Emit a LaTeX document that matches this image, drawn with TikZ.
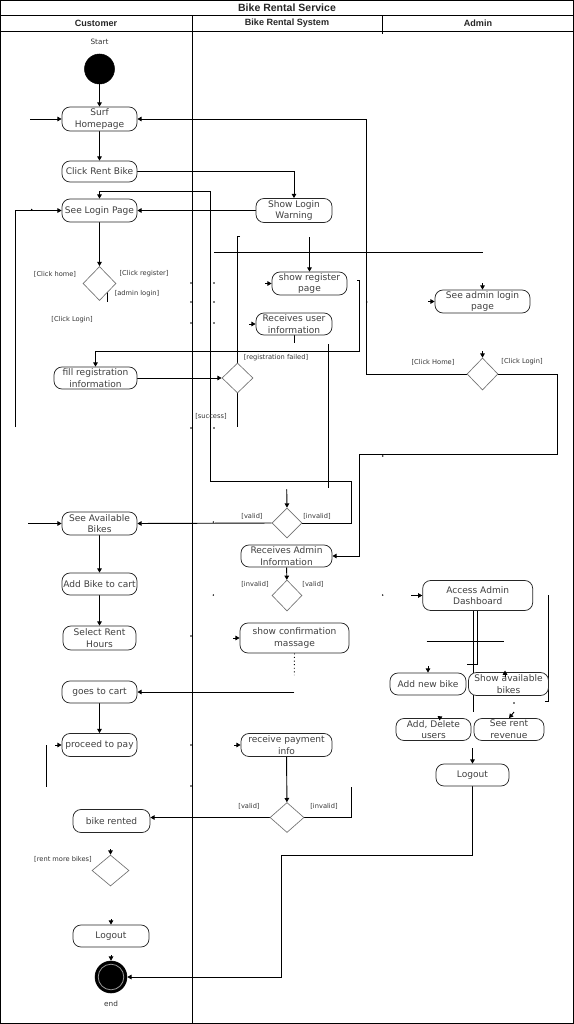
\documentclass[tikz,border=0pt]{standalone}
\usepackage{fontspec}
\setmainfont{DejaVu Sans}
\newfontfamily\hdfont{Liberation Sans}
\usetikzlibrary{arrows.meta,shapes.geometric,backgrounds}
\begin{document}
\begin{tikzpicture}[x=0.75pt,y=-0.75pt,
  act/.style={draw=black!85, fill=white, rounded corners=6pt, line width=0.55pt, align=center, inner sep=0pt, text=black!75, font=\fontsize{6.8}{8.8}\selectfont},
  dec/.style={diamond, draw=black!55, fill=white, line width=0.5pt, inner sep=0pt},
  ln/.style={draw=black, line width=0.7pt},
  arr/.style={ln, -{Triangle[length=3.2pt,width=3.4pt]}},
  lbl/.style={font=\fontsize{5}{6}\selectfont, text=black!80, inner sep=0pt},
  hd/.style={font=\hdfont\bfseries\fontsize{6.8}{8}\selectfont, text=black!85, inner sep=0pt},
]
\useasboundingbox (0,0) rectangle (574,1024);
% ---------- nodes ----------
\newcommand{\actnode}[5]{\node[act,minimum width=#4*0.75pt,minimum height=#5*0.75pt] (#1) at #2 {#3};}
\newcommand{\decnode}[4]{\node[dec,minimum width=#3*0.75pt,minimum height=#4*0.75pt] (#1) at #2 {};}

\node[hd,font=\hdfont\bfseries\fontsize{7.9}{9}\selectfont] (title) at (287,7.5) {Bike Rental Service};
\node[hd] (hc) at (96,23.5) {Customer};
\node[hd] (hs) at (287,23.5) {Bike Rental System};
\node[hd] (ha) at (478,23.5) {Admin};

\node[lbl,font=\fontsize{5.5}{6}\selectfont] (lstart) at (99.5,42) {Start};
\node[circle,fill=black,draw=black,minimum size=22.5pt,inner sep=0pt] (start) at (99.5,69) {};

\actnode{surf}{(99.5,119)}{Surf\\Homepage}{75}{24}
\actnode{click}{(99.5,171.5)}{Click Rent Bike}{75}{21}
\actnode{login}{(99.5,210.5)}{See Login Page}{75}{23}
\actnode{warn}{(294,210.5)}{Show Login\\Warning}{76}{24}
\decnode{d1}{(99.5,283.5)}{33}{34}
\actnode{reg}{(309.5,283.5)}{show register\\page}{75}{23}
\actnode{adminlogin}{(482.5,301.5)}{See admin login\\page}{95}{23}
\actnode{recv}{(294,324)}{Receives user\\information}{76}{22}
\actnode{fill}{(95.5,378)}{fill registration\\information}{83}{22}
\decnode{dreg}{(237.5,378)}{31}{30}
\decnode{dadm}{(482.5,374)}{31}{32}
\actnode{avail}{(99.5,523.5)}{See Available\\Bikes}{75}{23}
\decnode{dval}{(287,523)}{30}{30}
\actnode{recadm}{(286.5,556)}{Receives Admin\\Information}{91}{22}
\decnode{dval2}{(287,595.5)}{30}{31}
\actnode{addcart}{(99.5,584)}{Add Bike to cart}{75}{22}
\actnode{hours}{(99.5,638)}{Select Rent\\Hours}{73}{24}
\actnode{conf}{(294.5,638)}{show confirmation\\massage}{109}{30}
\actnode{dash}{(477.7,595.5)}{Access Admin\\Dashboard}{110}{30}
\actnode{gocart}{(99.5,692)}{goes to cart}{75}{22}
\actnode{addbike}{(428,684)}{Add new bike}{76}{22}
\actnode{showav}{(508.5,684)}{Show available\\bikes}{80}{23}
\actnode{pay}{(99.5,745)}{proceed to pay}{75}{23}
\actnode{recpay}{(286.5,745)}{receive payment\\info}{91}{23}
\actnode{adddel}{(433.5,729.5)}{Add, Delete\\users}{75}{22}
\actnode{rev}{(509,729.5)}{See rent\\revenue}{70}{22}
\actnode{alogout}{(472.5,775)}{Logout}{73}{22}
\decnode{dpay}{(287,817.5)}{34}{30}
\actnode{rented}{(111.5,821)}{bike rented}{77}{23}
\decnode{dmore}{(110.5,870.5)}{37}{31}
\actnode{logout}{(111,936)}{Logout}{76}{22}
\node[circle,fill=black,draw=black,minimum size=24pt,inner sep=0pt] (endc) at (111,977) {};
\draw[black!40,line width=0.6pt] (endc.center) circle (9.6pt);
\node[lbl,font=\fontsize{5.5}{6}\selectfont] (lend) at (111,1004) {end};

% guard labels
\node[lbl] (g1) at (55,274) {[Click home]};
\node[lbl] (g2) at (144,274) {[Click register]};
\node[lbl] (g3) at (137,293.5) {[admin login]};
\node[lbl] (g4) at (72,320) {[Click Login]};
\node[lbl] (g5) at (276,357.5) {[registration failed]};
\node[lbl] (g6) at (211,416.5) {[success]};
\node[lbl] (g7) at (433,362) {[Click Home]};
\node[lbl] (g8) at (522,362) {[Click Login]};
\node[lbl] (g9) at (252,516) {[valid]};
\node[lbl] (g10) at (317,516) {[invalid]};
\node[lbl] (g11) at (255,584) {[invalid]};
\node[lbl] (g12) at (313,584) {[valid]};
\node[lbl] (g13) at (249,806.5) {[valid]};
\node[lbl] (g14) at (324,806.5) {[invalid]};
\node[lbl] (g15) at (63,859) {[rent more bikes]};

% ---------- lines behind nodes ----------
\begin{pgfonlayer}{background}
\draw[line width=0.8pt] (0.5,0.5) rectangle (573.5,1023.5);
\draw[ln] (0,15.5) -- (574,15.5);
\draw[ln] (0,31.5) -- (574,31.5);
\draw[ln] (192,15.5) -- (192,1024);
\draw[ln] (382,15.5) -- (382,34);

\coordinate (a1) at (30,119);
\coordinate (a2) at (15.5,427);
\coordinate (a3) at (28.3,523.5);

\draw[arr] (start) -- (surf);
\draw[arr] (a1) -- (surf.west);
\draw[arr] (dadm.west) -- (366.7,374) |- (surf.east);
\draw[arr] (surf) -- (click);
\draw[arr] (click.east) -| (warn.north);
\draw[arr] (warn.west) -- (login.east);
\draw[arr] (a2) |- (login.west);
\draw[arr] (dval.east) -- (351.7,523) -- (351.7,481.7) -- (210.7,481.7) -- (210.7,191) -| (login.north);
\draw[arr] (login) -- (d1);
\draw[ln] (107.3,292) -- (107.3,302);
\draw[ln] (214,252) -- (482.7,252);
\draw[ln] (240,236.7) -- (237.5,236.7) -- (dreg.north);
\draw[ln] (dreg.south) -- (237.5,426.7);
\draw[arr] (309.5,237.3) -- (reg.north);
\draw[ln] (recv.south) -- (294,343.3);
\draw[ln] (328.3,344) -- (328.3,488.3);
\draw[arr] (357,280) -- (359.3,280) -- (359.3,351) -| (fill.north);
\draw[arr] (fill.east) -- (dreg.west);
\draw[arr] (dadm.east) -- (557.3,374) -- (557.3,454) -- (359.3,454) |- (recadm.east);
\draw[arr] (286.7,489.3) -- (dval.north);
\draw[arr] (dval.west) -- (avail.east);
\draw[arr] (a3) -- (avail.west);
\draw[arr] (avail) -- (addcart);
\draw[arr] (addcart) -- (hours);
\draw[arr] (recadm) -- (dval2);
\draw[ln,dotted] (conf.south) -- (294.3,675);
\draw[arr] (294.3,692) -- (gocart.east);
\draw[arr] (gocart) -- (pay);
\draw[ln] (46,745) -- (46,787);
\draw[arr] (recpay) -- (dpay);
\draw[arr] (dpay.west) -- (dpay.west -| rented.east);
\draw[ln] (dpay.east) -- (351,817.5) -- (351,787);
\draw[arr] (alogout.south) -- (472.5,855) -- (281.6,855) |- (endc.east);
\draw[ln] (473.3,610.7) -- (473.3,711.7);
\draw[ln] (477.3,610.7) -- (477.3,664) -- (467.3,664);
\draw[ln] (426.7,641) -- (504,641);
\draw[ln] (548.3,595) -- (548.3,701.7) -- (545,701.7);
\end{pgfonlayer}

% ---------- stray arrow tips ----------
\draw[arr] (265,283.5) -- (reg.west);
\draw[arr] (249,324) -- (recv.west);
\draw[arr] (428,301.5) -- (adminlogin.west);
\draw[arr] (482.5,283) -- (adminlogin.north);
\draw[arr] (482.5,351) -- (dadm.north);
\draw[arr] (233,638) -- (conf.west);
\draw[arr] (55,745) -- (pay.west);
\draw[arr] (234,745) -- (recpay.west);
\draw[arr] (110.5,849) -- (dmore.north);
\draw[arr] (111,919) -- (logout.north);
\draw[arr] (111,955) -- (endc.north);
\draw[arr] (411,595.5) -- (dash.west);
\draw[arr] (428,666) -- (addbike.north);
\draw[arr] (514,712) -- (rev.north);
\draw[arr] (472.5,748) -- (alogout.north);
\draw[arr] (505,677) -- (505,670.5);
\draw[arr] (441,718.5) -- (437.5,716);

% ---------- stray dots ----------
\foreach \p in {(214,283),(214,302),(214,323),(214,428),(213.3,522),(213.3,595),(31.7,209.5),(382.7,595),(382.7,456),(366.7,302),(514,703),(191,283),(191,302),(191,323),(191,428),(191,636),(191,745),(191,786)}
  \fill[black] \p circle (0.6pt);
\end{tikzpicture}
\end{document}
